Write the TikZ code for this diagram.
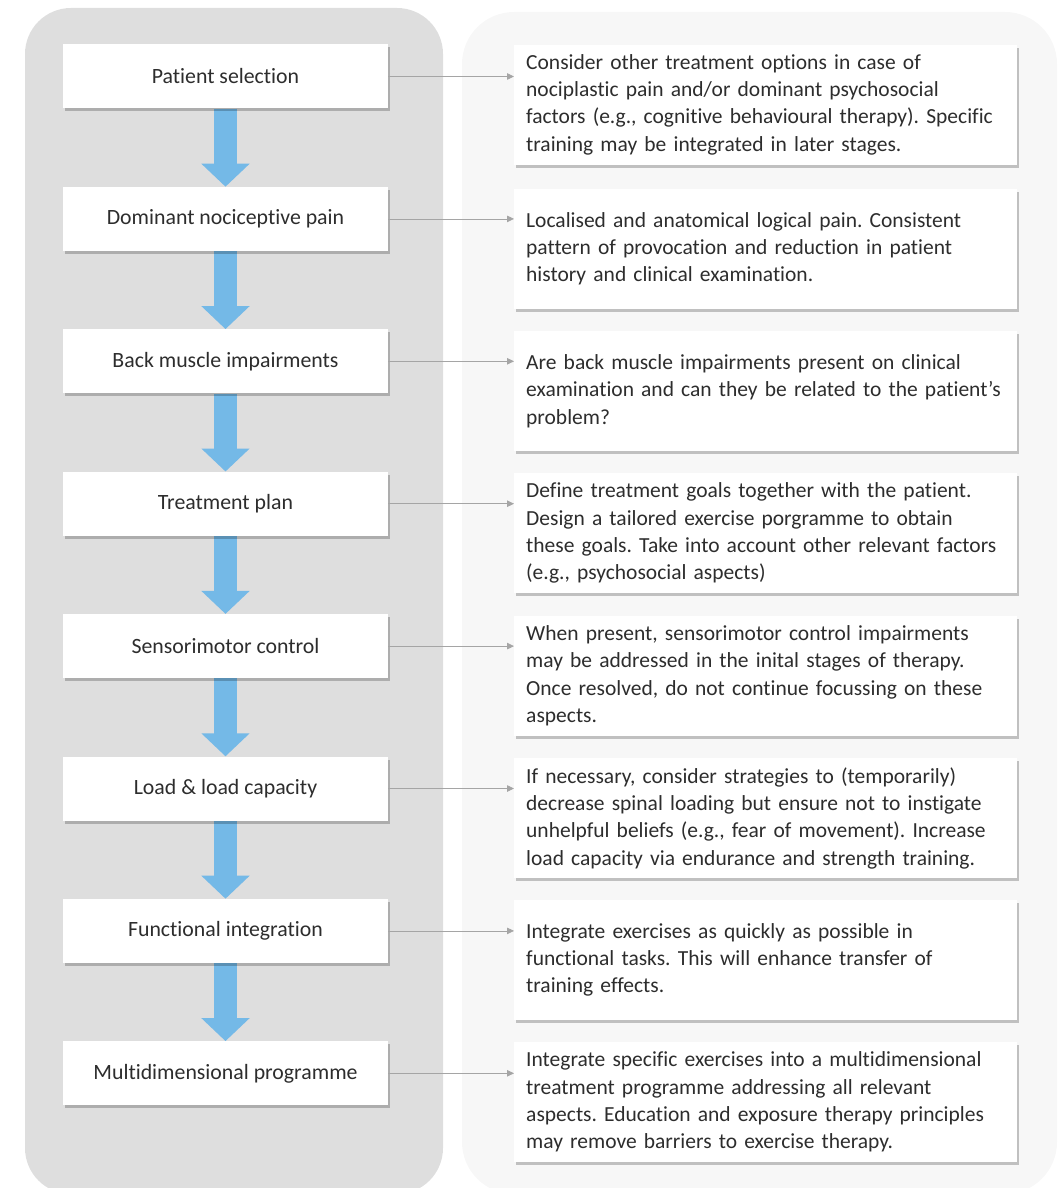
\documentclass[tikz,border=0pt]{standalone}
\usepackage{fontspec}
\setmainfont[Ligatures={NoCommon}]{Carlito}
\usetikzlibrary{arrows.meta,shadows}
\definecolor{panelL}{RGB}{222,222,222}
\definecolor{panelR}{RGB}{247,247,247}
\definecolor{flowblue}{RGB}{116,185,231}
\definecolor{txtgray}{RGB}{45,45,45}
\definecolor{conngray}{RGB}{165,165,165}
\pgfdeclarelayer{bg}
\pgfsetlayers{bg,main}
\begin{document}
\frenchspacing
\begin{tikzpicture}[x=1pt,y=-1pt,
  boxshadow/.style={drop shadow={shadow xshift=1.5pt,shadow yshift=-3pt,fill=black,opacity=0.22}},
  stepbox/.style={fill=white,minimum width=325pt,minimum height=64pt,inner sep=0pt,
    font=\fontsize{21.8}{27}\selectfont,text=txtgray,boxshadow},
  notebox/.style={fill=white,anchor=north west,minimum height=120pt,text width=479pt,
    inner xsep=12pt,inner ysep=0pt,align=left,font=\fontsize{21.5}{27.3}\selectfont,text=txtgray,boxshadow},
  flow/.style={draw=flowblue,line width=23pt,-{Triangle[length=23pt,width=47pt]}},
  conn/.style={draw=conngray,line width=0.8pt,-{Triangle[length=7pt,width=6.5pt]}}]
\useasboundingbox (0,0) rectangle (1058,1188);

% left step boxes
\node[stepbox] (L1) at (225.5,76.5) {Patient selection};
\node[stepbox] (L2) at (225.5,218.9) {Dominant nociceptive pain};
\node[stepbox] (L3) at (225.5,361.3) {Back muscle impairments};
\node[stepbox] (L4) at (225.5,503.7) {Treatment plan};
\node[stepbox] (L5) at (225.5,646.1) {Sensorimotor control};
\node[stepbox] (L6) at (225.5,788.5) {Load \& load capacity};
\node[stepbox] (L7) at (225.5,930.9) {Functional integration};
\node[stepbox] (L8) at (225.5,1073.3) {Multidimensional programme};

% panels and blue flow arrows behind the boxes
\begin{pgfonlayer}{bg}
\fill[panelL,rounded corners=46pt] (25,8) rectangle (443,1194);
\fill[panelR,rounded corners=52pt] (462,12) rectangle (1057,1194);
\foreach \a/\b in {L1/L2,L2/L3,L3/L4,L4/L5,L5/L6,L6/L7,L7/L8}
  \draw[flow] (\a.south) -- (\b.north);
\end{pgfonlayer}

% right note boxes
\node[notebox] (R1) at (514,44.5) {Consider other treatment options in case of\\nociplastic pain and/or dominant psychosocial\\factors (e.g., cognitive behavioural therapy). Specific\\training may be integrated in later stages.};
\node[notebox] (R2) at (514,188.5) {Localised and anatomical logical pain. Consistent\\pattern of provocation and reduction in patient\\history and clinical examination.};
\node[notebox] (R3) at (514,331) {Are back muscle impairments present on clinical\\examination and can they be related to the patient’s\\problem?};
\node[notebox] (R4) at (514,473) {Define treatment goals together with the patient.\\Design a tailored exercise porgramme to obtain\\these goals. Take into account other relevant factors\\(e.g., psychosocial aspects)};
\node[notebox] (R5) at (514,615.5) {When present, sensorimotor control impairments\\may be addressed in the inital stages of therapy.\\Once resolved, do not continue focussing on these\\aspects.};
\node[notebox] (R6) at (514,758) {If necessary, consider strategies to (temporarily)\\decrease spinal loading but ensure not to instigate\\unhelpful beliefs (e.g., fear of movement). Increase\\load capacity via endurance and strength training.};
\node[notebox] (R7) at (514,899.5) {Integrate exercises as quickly as possible in\\functional tasks. This will enhance transfer of\\training effects.};
\node[notebox] (R8) at (514,1042) {Integrate specific exercises into a multidimensional\\treatment programme addressing all relevant\\aspects. Education and exposure therapy principles\\may remove barriers to exercise therapy.};

% connectors
\foreach \i in {1,...,8}
  \draw[conn] (L\i.east) -- (L\i.east -| R\i.west);
\end{tikzpicture}
\end{document}
